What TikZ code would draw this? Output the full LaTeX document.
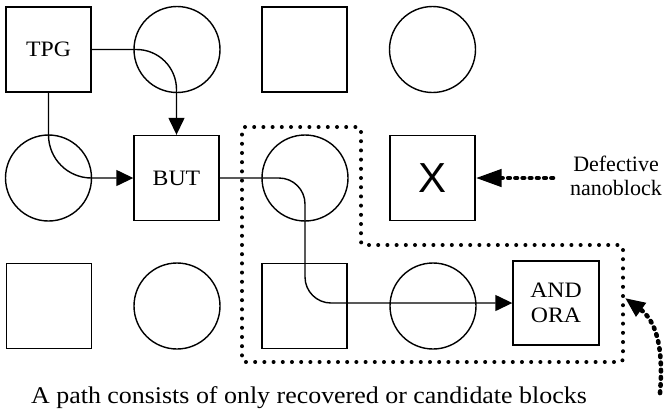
\documentclass[tikz,border=0pt]{standalone}
\usepackage{fontspec}
\setmainfont{Liberation Serif}
\newfontfamily\wideserif{Liberation Serif}[FakeStretch=1.08]
\newfontfamily\xsans{Liberation Sans}
\usetikzlibrary{arrows.meta}

\tikzset{
  block/.style={draw, line width=1.4pt, minimum width=85pt, minimum height=85pt,
    inner sep=0pt, font=\wideserif\fontsize{22}{25}\selectfont, align=center},
  cell/.style={draw, circle, line width=1.4pt, minimum size=86pt, inner sep=0pt},
  conn/.style={line width=1.4pt, -{Triangle[length=17pt,width=16pt]}},
  region/.style={line width=4pt, line cap=round, dash pattern=on 0pt off 9.2pt, rounded corners=3pt},
  pointer/.style={line width=4.6pt, line cap=round, dash pattern=on 1.6pt off 5.6pt,
    -{Triangle[length=26pt,width=17pt]}},
  label/.style={font=\fontsize{22}{24}\selectfont, inner sep=0pt}
}

\begin{document}
\begin{tikzpicture}[x=1pt,y=-1pt]
  \useasboundingbox (0,0) rectangle (664,408);

  % first row
  \node[block] (tpg) at (48.5,49.5) {TPG};
  \node[cell]  (c12) at (177,49.5) {};
  \node[block] (b13) at (304.5,49.5) {};
  \node[cell]  (c14) at (432.5,49.5) {};

  % second row
  \node[cell]  (c21) at (48.5,178) {};
  \node[block] (but) at (176.5,178) {BUT};
  \node[cell]  (c23) at (305,178) {};
  \node[block] (bad) at (432.5,178) {\xsans\fontsize{42}{42}\selectfont X};

  % third row
  \node[block] (b31) at (49,306) {};
  \node[cell]  (c32) at (177,306) {};
  \node[block] (b33) at (304.5,306) {};
  \node[cell]  (c34) at (433,306) {};
  \node[block, minimum width=86pt, minimum height=84pt] (andora) at (556,303) {AND\\ORA};

  % signal paths
  \draw[conn, rounded corners=40pt] (tpg.east) -| (but.north);
  \draw[conn, rounded corners=43pt] (tpg.south) |- (but.west);
  \draw[conn, rounded corners=26pt] (but.east) -| (c23.center |- andora.west) -- (andora.west);

  % region of recovered or candidate blocks
  \draw[region] (242,127) -- (361,127) -- (361,245) -- (623,245) -- (623,362) -- (242,362) -- cycle;

  % defective block annotation
  \coordinate (defsrc) at (553,178);
  \draw[pointer] (defsrc) -- (bad.east);
  \node[label, anchor=base] (def1) at (616,171) {Defective};
  \node[label, anchor=base] (def2) at (616,195) {nanoblock};

  % pointer to the region
  \coordinate (regsrc) at (660,393);
  \coordinate (regtip) at (625,298);
  \draw[pointer, -{Triangle[length=20pt,width=16pt]}] (regsrc) .. controls (664,345) and (655,320) .. (regtip);

  % caption
  \node[font=\wideserif\fontsize{24}{26}\selectfont, inner sep=0pt, anchor=base] (caption) at (309,403)
    {A path consists of only recovered or candidate blocks};
\end{tikzpicture}
\end{document}
